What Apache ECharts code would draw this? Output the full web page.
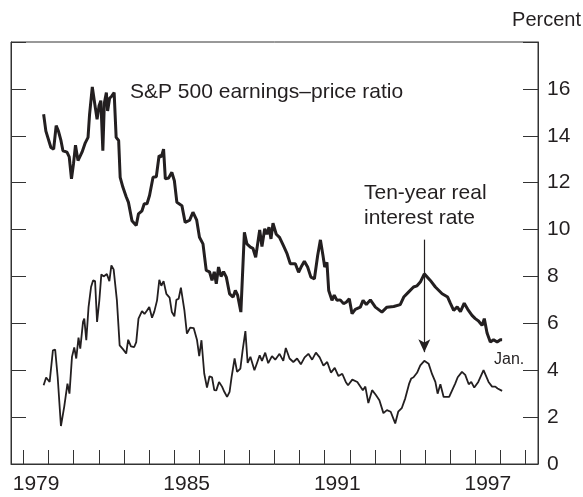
<!DOCTYPE html>
<html>
<head>
<meta charset="utf-8">
<script src="https://cdn.jsdelivr.net/npm/echarts@6/dist/echarts.min.js"></script>
<style>
html,body{margin:0;padding:0;background:#fff;}
#chart{width:583px;height:497px;}
</style>
</head>
<body>
<div id="chart"></div>
<script>
// S&P 500 earnings-price ratio (year, percent)
var epYears = [1979.80,1979.89,1979.96,1980.09,1980.20,1980.30,1980.39,1980.49,1980.57,1980.73,1980.82,1980.91,1980.99,1981.07,1981.17,1981.33,1981.46,1981.57,1981.63,1981.74,1981.86,1981.93,1982.01,1982.08,1982.13,1982.16,1982.22,1982.30,1982.35,1982.43,1982.52,1982.61,1982.69,1982.79,1982.85,1982.96,1983.09,1983.18,1983.32,1983.38,1983.49,1983.58,1983.72,1983.81,1983.92,1984.02,1984.16,1984.29,1984.40,1984.49,1984.58,1984.65,1984.78,1984.91,1985.01,1985.11,1985.31,1985.44,1985.62,1985.75,1985.90,1986.01,1986.15,1986.28,1986.41,1986.51,1986.60,1986.68,1986.77,1986.87,1986.97,1987.08,1987.21,1987.35,1987.44,1987.53,1987.66,1987.80,1987.90,1988.04,1988.14,1988.25,1988.33,1988.41,1988.50,1988.61,1988.70,1988.78,1988.86,1988.94,1989.07,1989.20,1989.36,1989.50,1989.63,1989.83,1989.96,1990.06,1990.19,1990.32,1990.45,1990.59,1990.72,1990.83,1990.93,1991.00,1991.09,1991.16,1991.29,1991.38,1991.49,1991.62,1991.75,1991.86,1991.98,1992.09,1992.22,1992.42,1992.53,1992.66,1992.82,1993.02,1993.28,1993.48,1993.75,1994.01,1994.15,1994.34,1994.54,1994.68,1994.81,1994.97,1995.21,1995.41,1995.68,1995.90,1996.01,1996.14,1996.28,1996.41,1996.56,1996.70,1996.87,1997.00,1997.13,1997.27,1997.36,1997.47,1997.60,1997.73,1997.87,1998.00,1998.07];
var epValues = [14.92,14.2,14.14,13.5,13.43,14.43,14.2,13.8,13.36,13.3,13.1,12.16,12.8,13.6,12.94,13.3,13.7,13.93,14.9,16.08,15.2,14.7,15.28,15.5,15.5,13.36,15.4,15.84,15.06,15.6,15.7,15.84,13.93,13.8,12.23,11.8,11.4,11.16,10.38,10.3,10.17,10.67,10.8,11.1,11.1,11.45,12.23,12.25,13.15,13.1,13.43,12.16,12.2,12.44,12.08,11.16,11.02,10.3,10.4,10.74,10.4,9.67,9.39,8.26,8.2,7.83,8.2,7.69,8.4,8.0,8.2,7.97,7.26,7.12,7.4,7.2,6.48,9.88,9.39,9.25,9.2,8.82,9.4,9.98,9.28,10.03,9.8,10.1,9.6,10.27,9.8,9.67,9.3,8.97,8.54,8.54,8.18,8.4,8.65,8.4,7.97,7.9,8.89,9.56,8.9,8.4,8.6,7.4,6.98,7.2,6.98,7.0,6.84,6.9,7.05,6.41,6.6,6.69,6.98,6.8,7.0,6.69,6.48,6.69,6.72,6.8,7.12,7.33,7.55,7.6,7.76,8.11,7.83,7.55,7.26,7.12,6.85,6.55,6.7,6.5,6.86,6.6,6.34,6.2,6.1,5.91,6.2,5.59,5.2,5.3,5.2,5.3,5.3];

// Ten-year real interest rate (year, percent)
var rrYears = [1979.80,1979.90,1980.04,1980.10,1980.17,1980.26,1980.36,1980.49,1980.62,1980.75,1980.83,1980.93,1981.02,1981.10,1981.19,1981.26,1981.37,1981.42,1981.50,1981.59,1981.69,1981.77,1981.85,1981.93,1982.02,1982.10,1982.19,1982.26,1982.32,1982.42,1982.50,1982.59,1982.72,1982.83,1982.96,1983.09,1983.17,1983.28,1983.41,1983.49,1983.58,1983.72,1983.82,1983.92,1984.01,1984.12,1984.21,1984.32,1984.41,1984.49,1984.58,1984.69,1984.82,1984.91,1985.01,1985.09,1985.18,1985.27,1985.41,1985.51,1985.64,1985.78,1985.91,1986.00,1986.09,1986.20,1986.31,1986.41,1986.51,1986.60,1986.68,1986.79,1986.91,1987.00,1987.11,1987.21,1987.29,1987.41,1987.51,1987.64,1987.73,1987.84,1987.93,1988.04,1988.20,1988.30,1988.41,1988.50,1988.63,1988.75,1988.90,1989.03,1989.20,1989.35,1989.45,1989.60,1989.75,1989.90,1990.05,1990.20,1990.35,1990.50,1990.65,1990.80,1990.95,1991.10,1991.25,1991.40,1991.55,1991.70,1991.84,1991.93,1992.10,1992.30,1992.52,1992.62,1992.74,1992.89,1993.04,1993.18,1993.34,1993.48,1993.63,1993.81,1993.93,1994.07,1994.21,1994.37,1994.45,1994.54,1994.68,1994.81,1994.97,1995.14,1995.28,1995.41,1995.50,1995.61,1995.74,1995.96,1996.20,1996.30,1996.47,1996.60,1996.74,1996.84,1996.96,1997.12,1997.33,1997.53,1997.67,1997.80,1997.89,1998.07];
var rrValues = [3.36,3.69,3.5,3.45,4.85,4.88,3.71,1.62,2.44,3.43,3.0,4.57,4.97,4.5,5.39,4.92,6.06,6.2,5.28,6.69,7.55,7.83,7.8,6.06,6.98,8.09,8.0,7.97,8.1,7.8,8.47,8.3,6.98,5.06,4.9,4.71,5.3,5.02,4.99,5.2,6.2,6.52,6.4,6.55,6.7,6.24,6.5,6.98,7.86,7.6,7.8,7.26,7.1,6.48,6.3,7.0,7.05,7.52,6.55,5.56,5.82,5.8,5.3,4.6,5.28,3.86,3.26,3.74,3.7,3.15,3.14,3.5,3.3,3.08,2.86,3.08,3.71,4.5,3.93,4.07,4.85,5.67,4.31,4.57,4.0,4.3,4.64,4.4,4.75,4.3,4.6,4.45,4.7,4.4,4.95,4.5,4.35,4.5,4.25,4.55,4.7,4.45,4.75,4.55,4.2,4.35,3.9,4.1,3.75,3.85,3.5,3.36,3.6,3.5,3.15,3.3,2.6,3.15,2.94,2.72,2.17,2.3,2.23,1.73,2.23,2.38,2.8,3.44,3.65,3.7,3.89,4.21,4.4,4.28,3.83,3.5,3.0,3.4,2.86,2.86,3.43,3.7,3.93,3.8,3.4,3.5,3.26,3.5,4.0,3.5,3.3,3.3,3.22,3.12];

var yearTicks = [1979,1980,1981,1982,1983,1984,1985,1986,1987,1988,1989,1990,1991,1992,1993,1994,1995,1996,1997,1998,1999];
var yearLabels = [1979, 1985, 1991, 1997];
var arrowYear = 1994.97, arrowFrom = 9.57, arrowTo = 4.77;

function zip(a, b) { return a.map(function (v, i) { return [v, b[i]]; }); }

var FONT = '"Liberation Sans", Arial, Helvetica, sans-serif';
var INK = '#231f20';
var chart = echarts.init(document.getElementById('chart'), null, {renderer: 'canvas'});
var yAxisBase = {
  type: 'value', min: 0, max: 18, interval: 2,
  axisLine: {show: true, lineStyle: {color: '#333', width: 1}},
  axisTick: {show: true, inside: true, length: 15, lineStyle: {color: '#333', width: 1}},
  splitLine: {show: false}
};
chart.setOption({
  animation: false,
  backgroundColor: '#fff',
  grid: {left: 11, right: 45, top: 42, bottom: 33, show: true, borderColor: '#333', borderWidth: 1},
  xAxis: {
    type: 'value', min: 1978.5, max: 1999.5,
    axisLine: {show: true, lineStyle: {color: '#333', width: 1}},
    axisTick: {show: true, inside: true, length: 14, customValues: yearTicks, lineStyle: {color: '#333', width: 1}},
    axisLabel: {show: true, customValues: yearLabels.map(function (y) { return y + 0.5; }),
      formatter: function (v) { return String(Math.floor(v)); },
      fontSize: 21, fontFamily: FONT, color: INK, margin: 10},
    splitLine: {show: false}
  },
  yAxis: [
    Object.assign({}, yAxisBase, {position: 'right',
      axisLabel: {show: true, fontSize: 21, fontFamily: FONT, color: INK, margin: 9,
        formatter: function (v) { return v >= 18 ? '' : String(v); }}}),
    Object.assign({}, yAxisBase, {position: 'left', axisLabel: {show: false}})
  ],
  series: [
    {type: 'line', data: zip(epYears, epValues), showSymbol: false, symbol: 'none',
      lineStyle: {color: INK, width: 3}, z: 3},
    {type: 'line', data: zip(rrYears, rrValues), showSymbol: false, symbol: 'none',
      lineStyle: {color: INK, width: 1.8}, z: 3,
      markLine: {silent: true, symbol: ['none', 'arrow'], symbolSize: [9, 13],
        label: {show: false},
        lineStyle: {color: INK, width: 1.2, type: 'solid'},
        data: [[{coord: [arrowYear, arrowFrom]}, {coord: [arrowYear, arrowTo]}]]}}
  ],
  graphic: [
    {type: 'text', style: {text: 'Percent', x: 581, y: 20, align: 'right', verticalAlign: 'middle', fontSize: 20, fontFamily: FONT, fill: INK}},
    {type: 'text', style: {text: 'S&P 500 earnings\u2013price ratio', x: 130, y: 92, align: 'left', verticalAlign: 'middle', fontSize: 21, fontFamily: FONT, fill: INK}},
    {type: 'text', style: {text: 'Ten-year real', x: 364, y: 193, align: 'left', verticalAlign: 'middle', fontSize: 21, fontFamily: FONT, fill: INK}},
    {type: 'text', style: {text: 'interest rate', x: 364, y: 218, align: 'left', verticalAlign: 'middle', fontSize: 21, fontFamily: FONT, fill: INK}},
    {type: 'text', style: {text: 'Jan.', x: 494, y: 360, align: 'left', verticalAlign: 'middle', fontSize: 16, fontFamily: FONT, fill: INK}}
  ]
});
</script>
</body>
</html>
